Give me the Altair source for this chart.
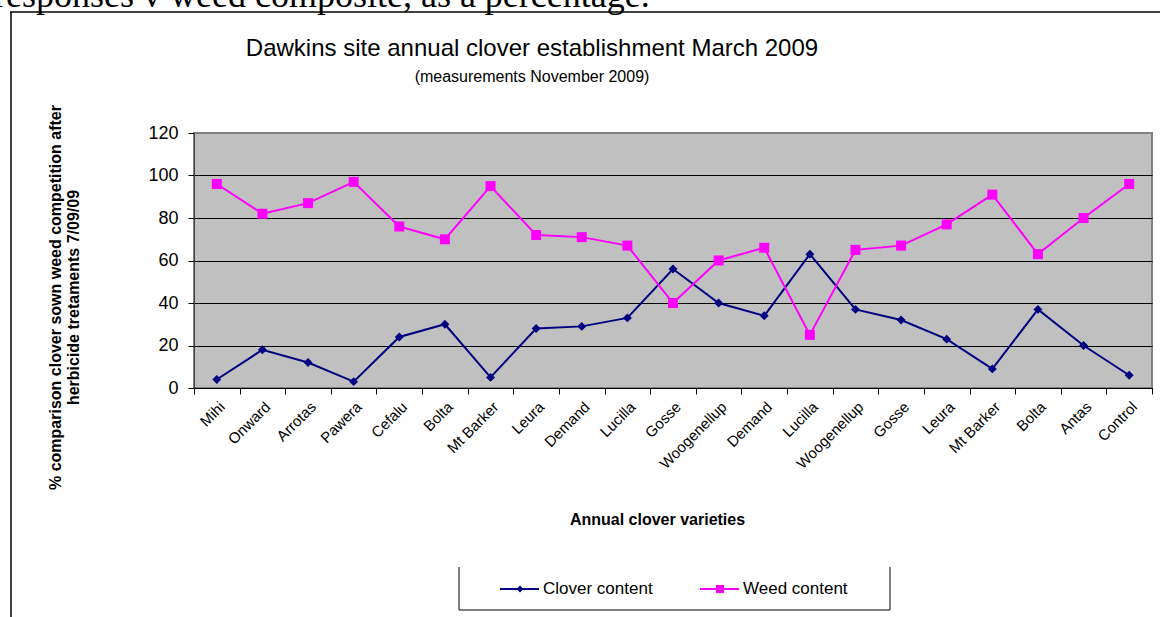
import json
import altair as alt
import pandas as pd

varieties = ["Mihi", "Onward", "Arrotas", "Pawera", "Cefalu", "Bolta", "Mt Barker",
             "Leura", "Demand", "Lucilla", "Gosse", "Woogenellup", "Demand", "Lucilla",
             "Woogenellup", "Gosse", "Leura", "Mt Barker", "Bolta", "Antas", "Control"]
clover = [4, 18, 12, 3, 24, 30, 5, 28, 29, 33, 56, 40, 34, 63, 37, 32, 23, 9, 37, 20, 6]
weed = [96, 82, 87, 97, 76, 70, 95, 72, 71, 67, 40, 60, 66, 25, 65, 67, 77, 91, 63, 80, 96]
series_names = ["Clover content", "Weed content"]
series_colors = ["#000080", "#FF00FF"]
series_shapes = ["diamond", "square"]
y_ticks = [0, 20, 40, 60, 80, 100, 120]

title_text = "Dawkins site annual clover establishment March 2009"
subtitle_text = "(measurements November 2009)"
y_title = ["% comparison clover sown weed competition after", "herbicide tretaments 7/09/09"]
x_title = "Annual clover varieties"
doc_text = "responses v weed composite, as a percentage."

rows = []
for i, name in enumerate(varieties):
    rows.append({"pos": i, "variety": name, "series": series_names[0], "value": clover[i]})
    rows.append({"pos": i, "variety": name, "series": series_names[1], "value": weed[i]})
df = pd.DataFrame(rows)

W, H = 958, 255
FONT = "Liberation Sans"
label_expr = json.dumps(varieties) + "[datum.value]"

x_enc = alt.X(
    "pos:O",
    scale=alt.Scale(type="band", paddingInner=0, paddingOuter=0),
    axis=alt.Axis(
        labelExpr=label_expr, labelAngle=-45, tickBand="extent", tickSize=6,
        tickColor="black", domainColor="black", labelFontSize=15, labelColor="black",
        labelPadding=5, title=x_title, titleFontSize=16, titleFontWeight="bold",
        titleX=463, titleY=131, titleBaseline="middle", titleAlign="center",
        titleColor="black",
    ),
)
y_enc = alt.Y(
    "value:Q",
    scale=alt.Scale(domain=[0, 120]),
    axis=alt.Axis(
        values=y_ticks, grid=True,
        gridColor={"condition": {"test": "datum.value == 120", "value": "#808080"}, "value": "black"},
        gridWidth=1, tickSize=6, tickColor="black", domainColor="#404040",
        labelFontSize=18, labelColor="black", labelPadding=10,
        title=y_title, titleFontSize=16, titleFontWeight="bold", titleColor="black",
        titleX=-147, titleY=164, titleAngle=270, titleAlign="center",
        titleBaseline="top", titleLineHeight=18,
    ),
)
color_enc = alt.Color("series:N", scale=alt.Scale(domain=series_names, range=series_colors), legend=None)

lines = alt.Chart(df).mark_line(strokeWidth=2).encode(x=x_enc, y=y_enc, color=color_enc)
points = alt.Chart(df).mark_point(filled=True, opacity=1).encode(
    x=x_enc, y=y_enc, color=color_enc,
    shape=alt.Shape("series:N", scale=alt.Scale(domain=series_names, range=series_shapes), legend=None),
    size=alt.Size("series:O", scale=alt.Scale(domain=series_names, range=[80, 100]), legend=None),
)

one = pd.DataFrame({"k": [0]})
title_mark = alt.Chart(one).mark_text(
    text=title_text, font=FONT, fontSize=24, align="center", baseline="middle", color="black"
).encode(x=alt.value(338), y=alt.value(-84))
subtitle_mark = alt.Chart(one).mark_text(
    text=subtitle_text, font=FONT, fontSize=16, align="center", baseline="middle", color="black"
).encode(x=alt.value(338), y=alt.value(-56))
doc_mark = alt.Chart(one).mark_text(
    text=doc_text, font="Liberation Serif", fontSize=36, align="left", baseline="alphabetic", color="black"
).encode(x=alt.value(-200), y=alt.value(-126))

# document frame
frame_top = alt.Chart(one).mark_rule(color="black", strokeWidth=1.5).encode(
    x=alt.value(-184), x2=alt.value(966), y=alt.value(-121))
frame_left = alt.Chart(one).mark_rule(color="black", strokeWidth=1.5).encode(
    x=alt.value(-183), y=alt.value(-121), y2=alt.value(484))

# legend (manual)
leg_layers = []
leg_y = 456
for i, (nm, col, shp) in enumerate(zip(series_names, series_colors, series_shapes)):
    x0 = 306 + 200 * i
    leg_layers.append(alt.Chart(one).mark_rule(color=col, strokeWidth=2).encode(
        x=alt.value(x0), x2=alt.value(x0 + 39), y=alt.value(leg_y)))
    leg_layers.append(alt.Chart(one).mark_point(filled=True, opacity=1, color=col, shape=shp,
                                                size=50 if shp == "diamond" else 64).encode(
        x=alt.value(x0 + 20), y=alt.value(leg_y)))
    leg_layers.append(alt.Chart(one).mark_text(text=nm, font=FONT, fontSize=17, align="left",
                                               baseline="middle", color="black").encode(
        x=alt.value(x0 + 43), y=alt.value(leg_y)))
box_left = alt.Chart(one).mark_rule(color="black", strokeWidth=1).encode(
    x=alt.value(265), y=alt.value(434), y2=alt.value(477))
box_right = alt.Chart(one).mark_rule(color="black", strokeWidth=1).encode(
    x=alt.value(696), y=alt.value(434), y2=alt.value(477))
box_bottom = alt.Chart(one).mark_rule(color="black", strokeWidth=1).encode(
    x=alt.value(265), x2=alt.value(696), y=alt.value(477))

chart = alt.layer(
    lines, points, title_mark, subtitle_mark, doc_mark, frame_top, frame_left,
    box_left, box_right, box_bottom, *leg_layers
).properties(
    width=W, height=H,
    autosize=alt.AutoSizeParams(type="none"),
    padding={"left": 194, "top": 133, "right": 8, "bottom": 229},
    background="white",
).configure(font=FONT).configure_view(
    fill="#C0C0C0", stroke="#808080", strokeWidth=2
)

chart.save("out.html", embed_options={"renderer": "svg", "actions": False})
